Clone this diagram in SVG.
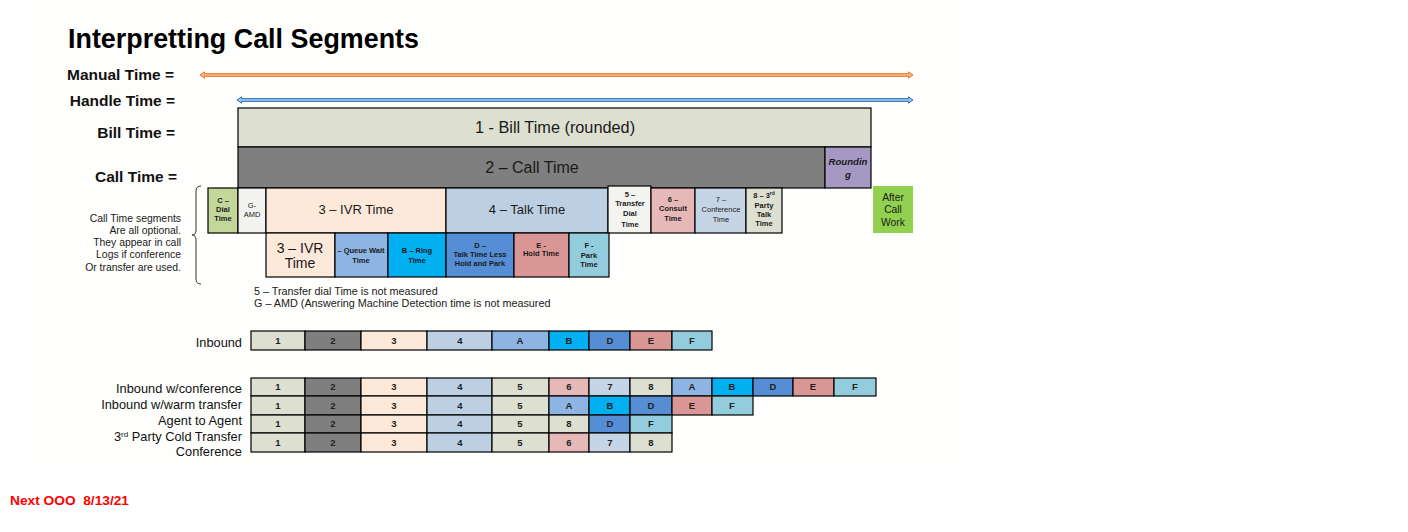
<svg xmlns="http://www.w3.org/2000/svg" width="1408" height="532" viewBox="0 0 1408 532">
<style>
text{font-family:"Liberation Sans",Arial,sans-serif;fill:#1a1a1a}
.lbl{font-size:15.5px;font-weight:bold;text-anchor:end;fill:#111}
.box{stroke:#000;stroke-width:1.2}
.s{font-size:7.5px;font-weight:bold;text-anchor:middle}
.sr{font-size:7.5px;text-anchor:middle}
.m{font-size:13px;text-anchor:middle}
.c{font-size:9.5px;font-weight:bold;text-anchor:middle;fill:#222}
.side{font-size:10.4px;text-anchor:end}
.row{font-size:12.8px;text-anchor:end;fill:#111}
.note{font-size:10.8px}
.k1{fill:#dddfd1}.k2{fill:#7f7f7f}.k3{fill:#fde9d9}.k4{fill:#bdd0e3}.k6{fill:#e6b9b8}.k7{fill:#c5d5e6}
.kA{fill:#8eb4e3}.kB{fill:#00b0f0}.kD{fill:#558ed5}.kE{fill:#d99694}.kF{fill:#93cddd}
</style>
<rect x="0" y="0" width="1408" height="532" fill="#ffffff"/>
<rect x="33" y="0" width="934" height="470" fill="#fefefc"/>
<text x="68" y="48" font-size="27" font-weight="bold" textLength="351" lengthAdjust="spacingAndGlyphs" style="fill:#000">Interpretting Call Segments</text>
<text class="lbl" x="174" y="80">Manual Time =</text>
<text class="lbl" x="175" y="106">Handle Time =</text>
<text class="lbl" x="175" y="138">Bill Time =</text>
<text class="lbl" x="177" y="182">Call Time =</text>

<g id="connectors">
<polygon points="200,75 204.5,71.8 204.5,73.6 908.5,73.6 908.5,71.8 913,75 908.5,78.2 908.5,76.4 204.5,76.4 204.5,78.2" fill="#f4b183" stroke="#ed7d31" stroke-width="1"/>
<polygon points="237,100 241.5,96.8 241.5,98.6 908.5,98.6 908.5,96.8 913,100 908.5,103.2 908.5,101.4 241.5,101.4 241.5,103.2" fill="#9dc3e6" stroke="#2e75b6" stroke-width="1"/>
<path d="M201,186 Q196,186 196,191 L196,230 Q196,235 192,235 Q196,235 196,240 L196,279 Q196,284 201,284" fill="none" stroke="#333" stroke-width="1"/>
</g>

<g id="bill"><rect class="box k1" x="238" y="108" width="633" height="39"/><text x="555" y="133" font-size="16.3" text-anchor="middle">1 - Bill Time (rounded)</text></g>
<g id="call"><rect class="box k2" x="238" y="147" width="587" height="41"/><text x="532" y="173" font-size="16" text-anchor="middle">2 – Call Time</text></g>
<g id="rounding"><rect class="box" x="825" y="147" width="46" height="41" fill="#a598c2"/><text x="848" y="165" font-size="9.6" font-weight="bold" font-style="italic" text-anchor="middle">Roundin</text><text x="848" y="178" font-size="9.6" font-weight="bold" font-style="italic" text-anchor="middle">g</text></g>

<g id="segC"><rect class="box" x="208" y="188" width="30" height="45" fill="#c4d79b"/><text class="s" x="223" y="203">C –</text><text class="s" x="223" y="212">Dial</text><text class="s" x="223" y="221">Time</text></g>
<g id="segG"><rect class="box" x="238" y="188" width="28" height="45" fill="#f2f2f0"/><text class="sr" x="252" y="208">G-</text><text class="sr" x="252" y="217">AMD</text></g>
<g id="seg3"><rect class="box k3" x="266" y="188" width="180" height="45"/><text class="m" x="356" y="214">3 – IVR Time</text></g>
<g id="seg4"><rect class="box k4" x="446" y="188" width="162" height="45"/><text class="m" x="527" y="214">4 – Talk Time</text></g>
<g id="seg5"><rect class="box" x="608" y="186" width="43" height="47" fill="#f3f3ef" stroke-width="1.5"/><text class="s" x="630" y="197">5 –</text><text class="s" x="630" y="206">Transfer</text><text class="s" x="630" y="216">Dial</text><text class="s" x="630" y="227">Time</text></g>
<g id="seg6"><rect class="box k6" x="651" y="188" width="44" height="45"/><text class="s" x="673" y="202">6 –</text><text class="s" x="673" y="211">Consult</text><text class="s" x="673" y="221">Time</text></g>
<g id="seg7"><rect class="box k7" x="695" y="188" width="51" height="45"/><text class="sr" x="721" y="202">7 –</text><text class="sr" x="721" y="212">Conference</text><text class="sr" x="721" y="222">Time</text></g>
<g id="seg8"><rect class="box k1" x="746" y="188" width="36" height="45"/><text class="s" x="764" y="198">8 – 3<tspan font-size="5" dy="-3">rd</tspan></text><text class="s" x="764" y="208">Party</text><text class="s" x="764" y="217">Talk</text><text class="s" x="764" y="226">Time</text></g>
<g id="acw"><rect x="873" y="186" width="40" height="47" fill="#92d050"/><text x="893" y="201" font-size="10.3" text-anchor="middle">After</text><text x="893" y="213" font-size="10.3" text-anchor="middle">Call</text><text x="893" y="226" font-size="10.3" text-anchor="middle">Work</text></g>

<g id="sub3"><rect class="box k3" x="266" y="233" width="69" height="44"/><text x="300" y="253" font-size="14" text-anchor="middle">3 – IVR</text><text x="300" y="268" font-size="14" text-anchor="middle">Time</text></g>
<g id="subA"><rect class="box kA" x="335" y="233" width="53" height="44"/><text class="s" x="361" y="253">– Queue Wait</text><text class="s" x="361" y="263">Time</text></g>
<g id="subB"><rect class="box kB" x="388" y="233" width="58" height="44"/><text class="s" x="417" y="253">B – Ring</text><text class="s" x="417" y="263">Time</text></g>
<g id="subD"><rect class="box kD" x="446" y="233" width="68" height="44"/><text class="s" x="480" y="248">D –</text><text class="s" x="480" y="257">Talk Time Less</text><text class="s" x="480" y="266">Hold and Park</text></g>
<g id="subE"><rect class="box kE" x="514" y="233" width="55" height="44"/><text class="s" x="541" y="248">E -</text><text class="s" x="541" y="256">Hold Time</text></g>
<g id="subF"><rect class="box kF" x="569" y="233" width="40" height="44"/><text class="s" x="589" y="248">F -</text><text class="s" x="589" y="258">Park</text><text class="s" x="589" y="267">Time</text></g>

<g id="sidenote">
<text class="side" x="181" y="222">Call Time segments</text>
<text class="side" x="181" y="234">Are all optional.</text>
<text class="side" x="181" y="246">They appear in call</text>
<text class="side" x="181" y="258">Logs if conference</text>
<text class="side" x="181" y="271">Or transfer are used.</text>
</g>
<g id="notes">
<text class="note" x="254" y="295">5 – Transfer dial Time is not measured</text>
<text class="note" x="254" y="307">G – AMD (Answering Machine Detection time is not measured</text>
</g>

<g id="inbound">
<text class="row" x="242" y="347">Inbound</text>
<rect class="box k1" x="251" y="331" width="54" height="19"/><text class="c" x="278" y="344">1</text>
<rect class="box k2" x="305" y="331" width="56" height="19"/><text class="c" x="333" y="344">2</text>
<rect class="box k3" x="361" y="331" width="66" height="19"/><text class="c" x="394" y="344">3</text>
<rect class="box k4" x="427" y="331" width="65" height="19"/><text class="c" x="460" y="344">4</text>
<rect class="box kA" x="492" y="331" width="57" height="19"/><text class="c" x="520" y="344">A</text>
<rect class="box kB" x="549" y="331" width="40" height="19"/><text class="c" x="569" y="344">B</text>
<rect class="box kD" x="589" y="331" width="41" height="19"/><text class="c" x="610" y="344">D</text>
<rect class="box kE" x="630" y="331" width="42" height="19"/><text class="c" x="651" y="344">E</text>
<rect class="box kF" x="672" y="331" width="40" height="19"/><text class="c" x="692" y="344">F</text>
</g>

<g id="rowlabels">
<text class="row" x="242" y="393">Inbound w/conference</text>
<text class="row" x="242" y="409">Inbound w/warm transfer</text>
<text class="row" x="242" y="425">Agent to Agent</text>
<text class="row" x="242" y="441">3<tspan font-size="8" dy="-4">rd</tspan><tspan dy="4"> Party Cold Transfer</tspan></text>
<text class="row" x="242" y="456">Conference</text>
</g>

<g id="row1">
<rect class="box k1" x="251" y="378" width="54" height="18"/><text class="c" x="278" y="390">1</text>
<rect class="box k2" x="305" y="378" width="56" height="18"/><text class="c" x="333" y="390">2</text>
<rect class="box k3" x="361" y="378" width="66" height="18"/><text class="c" x="394" y="390">3</text>
<rect class="box k4" x="427" y="378" width="65" height="18"/><text class="c" x="460" y="390">4</text>
<rect class="box k1" x="492" y="378" width="57" height="18"/><text class="c" x="520" y="390">5</text>
<rect class="box k6" x="549" y="378" width="40" height="18"/><text class="c" x="569" y="390">6</text>
<rect class="box k7" x="589" y="378" width="41" height="18"/><text class="c" x="610" y="390">7</text>
<rect class="box k1" x="630" y="378" width="42" height="18"/><text class="c" x="651" y="390">8</text>
<rect class="box kA" x="672" y="378" width="40" height="18"/><text class="c" x="692" y="390">A</text>
<rect class="box kB" x="712" y="378" width="41" height="18"/><text class="c" x="732" y="390">B</text>
<rect class="box kD" x="753" y="378" width="40" height="18"/><text class="c" x="773" y="390">D</text>
<rect class="box kE" x="793" y="378" width="41" height="18"/><text class="c" x="813" y="390">E</text>
<rect class="box kF" x="834" y="378" width="42" height="18"/><text class="c" x="855" y="390">F</text>
</g>
<g id="row2">
<rect class="box k1" x="251" y="396" width="54" height="19"/><text class="c" x="278" y="409">1</text>
<rect class="box k2" x="305" y="396" width="56" height="19"/><text class="c" x="333" y="409">2</text>
<rect class="box k3" x="361" y="396" width="66" height="19"/><text class="c" x="394" y="409">3</text>
<rect class="box k4" x="427" y="396" width="65" height="19"/><text class="c" x="460" y="409">4</text>
<rect class="box k1" x="492" y="396" width="57" height="19"/><text class="c" x="520" y="409">5</text>
<rect class="box kA" x="549" y="396" width="40" height="19"/><text class="c" x="569" y="409">A</text>
<rect class="box kB" x="589" y="396" width="41" height="19"/><text class="c" x="610" y="409">B</text>
<rect class="box kD" x="630" y="396" width="42" height="19"/><text class="c" x="651" y="409">D</text>
<rect class="box kE" x="672" y="396" width="40" height="19"/><text class="c" x="692" y="409">E</text>
<rect class="box kF" x="712" y="396" width="41" height="19"/><text class="c" x="732" y="409">F</text>
</g>
<g id="row3">
<rect class="box k1" x="251" y="415" width="54" height="18"/><text class="c" x="278" y="427">1</text>
<rect class="box k2" x="305" y="415" width="56" height="18"/><text class="c" x="333" y="427">2</text>
<rect class="box k3" x="361" y="415" width="66" height="18"/><text class="c" x="394" y="427">3</text>
<rect class="box k4" x="427" y="415" width="65" height="18"/><text class="c" x="460" y="427">4</text>
<rect class="box k1" x="492" y="415" width="57" height="18"/><text class="c" x="520" y="427">5</text>
<rect class="box k1" x="549" y="415" width="40" height="18"/><text class="c" x="569" y="427">8</text>
<rect class="box kD" x="589" y="415" width="41" height="18"/><text class="c" x="610" y="427">D</text>
<rect class="box kF" x="630" y="415" width="42" height="18"/><text class="c" x="651" y="427">F</text>
</g>
<g id="row4">
<rect class="box k1" x="251" y="433" width="54" height="19"/><text class="c" x="278" y="446">1</text>
<rect class="box k2" x="305" y="433" width="56" height="19"/><text class="c" x="333" y="446">2</text>
<rect class="box k3" x="361" y="433" width="66" height="19"/><text class="c" x="394" y="446">3</text>
<rect class="box k4" x="427" y="433" width="65" height="19"/><text class="c" x="460" y="446">4</text>
<rect class="box k1" x="492" y="433" width="57" height="19"/><text class="c" x="520" y="446">5</text>
<rect class="box k6" x="549" y="433" width="40" height="19"/><text class="c" x="569" y="446" font-size="8">6</text>
<rect class="box k7" x="589" y="433" width="41" height="19"/><text class="c" x="610" y="446">7</text>
<rect class="box k1" x="630" y="433" width="42" height="19"/><text class="c" x="651" y="446">8</text>
</g>

<text x="10" y="505" font-size="13" font-weight="bold" xml:space="preserve" textLength="119" lengthAdjust="spacingAndGlyphs" style="fill:#ff0000">Next OOO  8/13/21</text>
</svg>
